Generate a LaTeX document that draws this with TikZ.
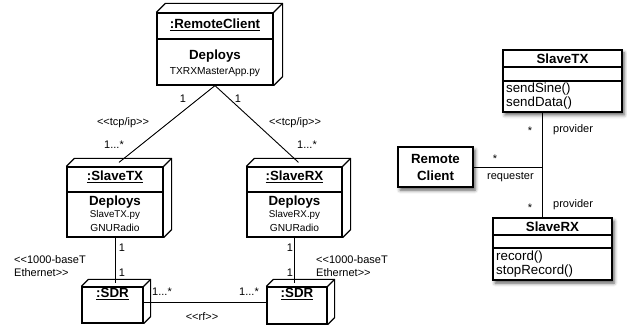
\documentclass[tikz,border=0pt]{standalone}
\usepackage{fontspec}
\setmainfont{Liberation Sans}
\usetikzlibrary{shadows.blur,calc,backgrounds}
\tikzset{
  box/.style={draw, fill=white, inner sep=0pt, line width=1.2pt},
  shad/.style={blur shadow={shadow xshift=2pt, shadow yshift=-3pt, shadow blur radius=3.5pt, shadow opacity=65}},
  edge/.style={line width=1.2pt, line join=round},
  conn/.style={line width=0.9pt},
  big/.style={inner sep=0pt, font=\fontsize{13.3}{15}\selectfont\bfseries},
  reg/.style={inner sep=0pt, font=\fontsize{13.3}{15}\selectfont},
  small/.style={inner sep=0pt, font=\fontsize{10.2}{12}\selectfont},
  tiny/.style={inner sep=0pt, font=\fontsize{9.8}{11}\selectfont},
  lbl/.style={inner sep=0pt, font=\fontsize{11}{13}\selectfont, align=left},
}
\newcommand\cubefaces[2]{%
  \begin{pgfonlayer}{background}
    \path[fill=white, shad] (#1.south west) -- (#1.north west) -- ++(#2,-#2)
      -- ($(#1.north east)+(#2,-#2)$) -- ($(#1.south east)+(#2,-#2)$) -- (#1.south east) -- cycle;
  \end{pgfonlayer}
  \draw[edge] (#1.north west) -- ++(#2,-#2) -- ($(#1.north east)+(#2,-#2)$)
    -- ($(#1.south east)+(#2,-#2)$) -- (#1.south east);
  \draw[edge] (#1.north east) -- ++(#2,-#2);
}
\begin{document}
\begin{tikzpicture}[x=1pt, y=-1pt]
\useasboundingbox (0,0) rectangle (627,331);

% ---------- deployment nodes ----------
\node[box, minimum width=116pt, minimum height=72pt] (rc) at (215,49) {};
\cubefaces{rc}{9}
\draw[edge] (rc.west |- 0,39) -- (rc.east |- 0,39);
\node[big] (rct) at (215,25) {\underline{:RemoteClient}};
\node[big] (rcd) at (215,56) {Deploys};
\node[small] (rcf) at (215,72) {TXRXMasterApp.py};

\node[box, minimum width=96pt, minimum height=70pt] (stx) at (115,202) {};
\cubefaces{stx}{8}
\draw[edge] (stx.west |- 0,192) -- (stx.east |- 0,192);
\node[big] (stxt) at (115,177) {\underline{:SlaveTX}};
\node[big] (stxd) at (115,202) {Deploys};
\node[tiny] (stxf) at (115,215) {SlaveTX.py};
\node[small] (stxg) at (115,228) {GNURadio};

\node[box, minimum width=95pt, minimum height=70pt] (srx) at (294.5,202) {};
\cubefaces{srx}{8}
\draw[edge] (srx.west |- 0,192) -- (srx.east |- 0,192);
\node[big] (srxt) at (294.5,177) {\underline{:SlaveRX}};
\node[big] (srxd) at (294.5,202) {Deploys};
\node[tiny] (srxf) at (294.5,215) {SlaveRX.py};
\node[small] (srxg) at (294.5,228) {GNURadio};

\node[box, minimum width=61pt, minimum height=36pt] (sdrl) at (112.5,305) {};
\cubefaces{sdrl}{7}
\node[big] (sdrlt) at (112.5,294) {\underline{:SDR}};

\node[box, minimum width=60pt, minimum height=37pt] (sdrr) at (297,305.5) {};
\cubefaces{sdrr}{7}
\node[big] (sdrrt) at (297,294) {\underline{:SDR}};

% ---------- deployment connectors ----------
\draw[conn] (rc.south) -- ($(stx.north)+(4,-4)$);
\draw[conn] (rc.south) -- ($(srx.north)+(4,-4)$);
\draw[conn] (stx.south) -- ($(stx.south |- sdrl.north)+(0,-3.5)$);
\draw[conn] (srx.south) -- ($(srx.south |- sdrr.north)+(0,-3.5)$);
\draw[conn] ($(sdrl.east)+(0,-3)$) -- ($(sdrl.east -| sdrr.west)+(0,-3)$);

\node[lbl] (m1) at (183,99) {1};
\node[lbl] (m2) at (238,99) {1};
\node[lbl] (tcpl) at (123,123) {<{}<tcp/ip>{}>};
\node[lbl] (tcpr) at (295,123) {<{}<tcp/ip>{}>};
\node[lbl] (m3) at (114,145) {1...*};
\node[lbl] (m4) at (307,145) {1...*};
\node[lbl] (m5) at (122,248) {1};
\node[lbl] (m6) at (122,273) {1};
\node[lbl] (m7) at (290,248) {1};
\node[lbl] (m8) at (290,273) {1};
\node[lbl, anchor=west] (ethl) at (14,266) {<{}<1000-baseT\\Ethernet>{}>};
\node[lbl, anchor=west] (ethr) at (316,266) {<{}<1000-baseT\\Ethernet>{}>};
\node[lbl] (m9) at (162,292) {1...*};
\node[lbl] (m10) at (249,292) {1...*};
\node[lbl] (rf) at (202,317) {<{}<rf>{}>};

% ---------- class diagram ----------
\node[box, shad, minimum width=119pt, minimum height=62pt] (ctx) at (562.5,81) {};
\draw[edge] (ctx.west |- 0,67) -- (ctx.east |- 0,67);
\draw[edge] (ctx.west |- 0,81) -- (ctx.east |- 0,81);
\node[big] (ctxt) at (562.5,58.5) {SlaveTX};
\node[reg, anchor=west] (ctxm1) at (506,89) {sendSine()};
\node[reg, anchor=west] (ctxm2) at (506,103) {sendData()};

\node[box, shad, minimum width=119pt, minimum height=62pt] (crx) at (552.5,249) {};
\draw[edge] (crx.west |- 0,235) -- (crx.east |- 0,235);
\draw[edge] (crx.west |- 0,248) -- (crx.east |- 0,248);
\node[big] (crxt) at (552.5,226.5) {SlaveRX};
\node[reg, anchor=west] (crxm1) at (496,257) {record()};
\node[reg, anchor=west] (crxm2) at (496,271) {stopRecord()};

\node[box, shad, minimum width=75pt, minimum height=40pt, align=center,
      font=\fontsize{13.3}{17}\selectfont\bfseries] (rcl) at (435.5,167) {Remote\\Client};

\coordinate (j) at (542,168);
\draw[conn] (j |- ctx.south) -- (j |- crx.north);
\draw[conn] (rcl.east) -- (rcl.east -| j);

\node[lbl] (s1) at (530,131) {*};
\node[lbl, anchor=west] (p1) at (553,130) {provider};
\node[lbl] (s2) at (495,159) {*};
\node[lbl, anchor=west] (req) at (487,177) {requester};
\node[lbl] (s3) at (530,208) {*};
\node[lbl, anchor=west] (p2) at (553,205) {provider};
\end{tikzpicture}
\end{document}
